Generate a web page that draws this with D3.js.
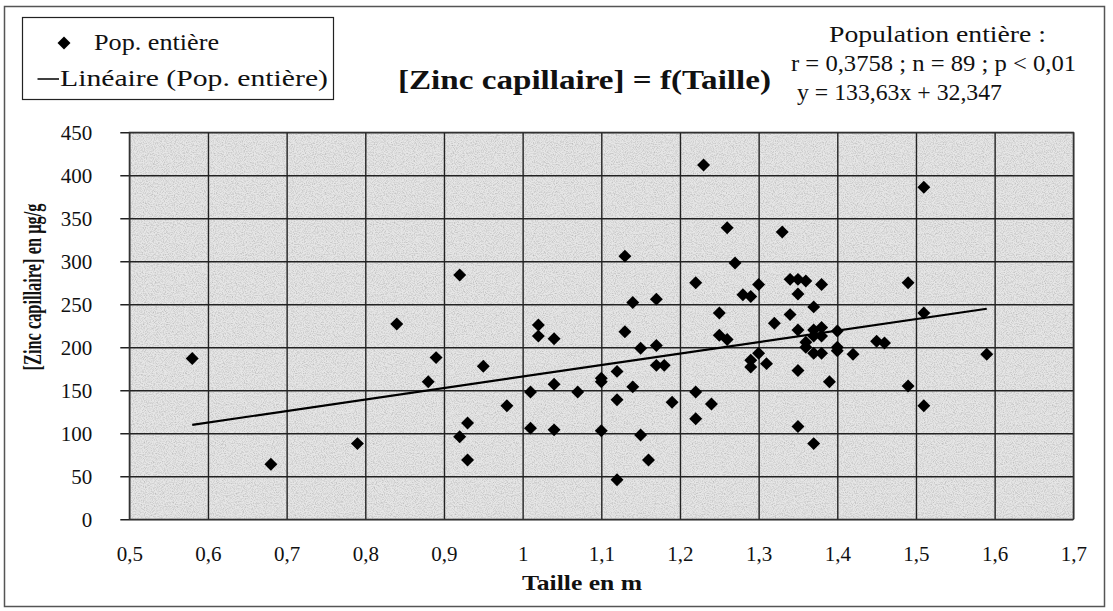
<!DOCTYPE html>
<html><head><meta charset="utf-8">
<script src="https://cdn.jsdelivr.net/npm/d3@7"></script>
<style>
body{margin:0;background:#fff}
svg text{font-family:"Liberation Serif","Times New Roman",Tinos,"Nimbus Roman","DejaVu Serif",serif !important;fill:#111}
</style>
</head><body>
<svg id="chart" width="1113" height="611"></svg>
<script>
// ---- data ----
const taille = [0.58,0.68,0.79,0.84,0.88,0.89,0.92,0.92,0.93,0.93,0.95,0.98,1.01,1.01,1.02,1.02,1.04,1.04,1.04,1.07,
  1.10,1.10,1.10,1.12,1.12,1.12,1.13,1.13,1.14,1.14,1.15,1.15,1.16,1.17,1.17,1.17,1.18,1.19,1.22,1.22,
  1.22,1.23,1.24,1.25,1.25,1.26,1.26,1.27,1.28,1.29,1.29,1.29,1.30,1.30,1.31,1.32,1.33,1.34,1.34,1.35,
  1.35,1.35,1.35,1.35,1.36,1.36,1.36,1.37,1.37,1.37,1.37,1.37,1.38,1.38,1.38,1.38,1.39,1.40,1.40,1.40,
  1.42,1.45,1.46,1.49,1.49,1.51,1.51,1.51,1.59];
const zinc = [187,64,88,227,160,188,284,96,112,69,178,132,148,106,226,213,210,157,104,148,
  164,160,103,172,139,46,306,218,252,154,199,98,69,256,202,179,179,136,275,148,
  117,412,134,240,214,209,339,298,261,259,185,177,273,193,181,228,334,279,238,279,
  262,220,173,108,277,206,200,247,220,213,193,88,273,223,213,193,160,219,200,196,
  192,207,205,275,155,386,240,132,192];
const trendSlope = 133.63, trendIntercept = 32.347;
const xTicks = [0.5,0.6,0.7,0.8,0.9,1.0,1.1,1.2,1.3,1.4,1.5,1.6,1.7];
const xTickLabels = ["0,5","0,6","0,7","0,8","0,9","1","1,1","1,2","1,3","1,4","1,5","1,6","1,7"];
const yTicks = [0,50,100,150,200,250,300,350,400,450];
const yTickLabels = ["0","50","100","150","200","250","300","350","400","450"];
const seriesLabel = "Pop. entière";
const trendLabel = "Linéaire (Pop. entière)";
const titleText = "[Zinc capillaire] = f(Taille)";
const statsLines = ["Population entière :", "r = 0,3758 ; n = 89 ; p < 0,01", "y = 133,63x + 32,347"];
const xTitle = "Taille en m";
const yTitle = "[Zinc capillaire] en µg/g";

// ---- layout ----
const svg = d3.select("#chart");
const L = 129.3, R = 1073.3, T = 132.3, B = 519.3;
const x = d3.scaleLinear().domain([0.5,1.7]).range([L,R]);
const y = d3.scaleLinear().domain([0,450]).range([B,T]);

const defs = svg.append("defs");
const f = defs.append("filter").attr("id","noise").attr("x",0).attr("y",0).attr("width","100%").attr("height","100%")
  .attr("color-interpolation-filters","sRGB");
f.append("feTurbulence").attr("type","fractalNoise").attr("baseFrequency",0.9).attr("numOctaves",2).attr("seed",7).attr("result","n");
f.append("feColorMatrix").attr("in","n").attr("type","matrix")
  .attr("values","0 0 0 0 0.3  0 0 0 0 0.3  0 0 0 0 0.3  1.6 0 0 0 -0.65");

// outer frame
svg.append("rect").attr("x",4.5).attr("y",6.5).attr("width",1100).attr("height",600)
  .attr("fill","#fff").attr("stroke","#555").attr("stroke-width",1.5);

// plot background
svg.append("rect").attr("x",L).attr("y",T).attr("width",R-L).attr("height",B-T).attr("fill","#e6e6e6");
svg.append("rect").attr("x",L).attr("y",T).attr("width",R-L).attr("height",B-T).attr("filter","url(#noise)").attr("opacity",0.35);

// x axis + vertical grid
const xAxis = svg.append("g").attr("transform",`translate(0,${B})`)
  .call(d3.axisBottom(x).tickValues(xTicks).tickSize(-(B-T)).tickPadding(27)
    .tickFormat((d,i)=>xTickLabels[i]));
xAxis.select(".domain").remove();
xAxis.selectAll("line").attr("stroke","#222").attr("stroke-width",1.4);
xAxis.selectAll("text").attr("font-size",21).attr("fill","#111");

// y axis + horizontal grid (ticks extend 9px left of the plot)
const yAxis = svg.append("g").attr("transform",`translate(${L-9},0)`)
  .call(d3.axisLeft(y).tickValues(yTicks).tickSize(-(R-L+9)).tickPadding(28)
    .tickFormat((d,i)=>yTickLabels[i]));
yAxis.select(".domain").remove();
yAxis.selectAll("line").attr("stroke","#222").attr("stroke-width",1.4);
yAxis.selectAll("text").attr("font-size",21).attr("fill","#111");

// plot border
svg.append("rect").attr("x",L).attr("y",T).attr("width",R-L).attr("height",B-T)
  .attr("fill","none").attr("stroke","#333").attr("stroke-width",1.2);

// trend line over data range
const xr = d3.extent(taille);
svg.append("line")
  .attr("x1",x(xr[0])).attr("y1",y(trendSlope*xr[0]+trendIntercept))
  .attr("x2",x(xr[1])).attr("y2",y(trendSlope*xr[1]+trendIntercept))
  .attr("stroke","#000").attr("stroke-width",2.2);

// points
const diamond = d3.symbol().type(d3.symbolSquare).size(84);
svg.append("g").selectAll("path").data(taille.map((t,i)=>[t,zinc[i]])).join("path")
  .attr("d",diamond)
  .attr("transform",d=>`translate(${x(d[0])},${y(d[1])}) rotate(45)`)
  .attr("fill","#000");

// axis titles
svg.append("text").attr("x",582).attr("y",590).attr("text-anchor","middle")
  .attr("font-size",22).attr("font-weight","bold").attr("textLength",120).attr("lengthAdjust","spacingAndGlyphs")
  .text(xTitle);
svg.append("text").attr("transform","translate(41,287) rotate(-90)").attr("text-anchor","middle")
  .attr("font-size",25).attr("font-weight","bold").attr("textLength",167).attr("lengthAdjust","spacingAndGlyphs")
  .text(yTitle);

// legend
const lg = svg.append("g");
lg.append("rect").attr("x",22.5).attr("y",17.5).attr("width",311).attr("height",82)
  .attr("fill","#fff").attr("stroke","#222").attr("stroke-width",1.2);
lg.append("path").attr("d",diamond).attr("transform","translate(64,43) rotate(45)").attr("fill","#000");
lg.append("text").attr("x",94).attr("y",50).attr("font-size",23)
  .attr("textLength",125).attr("lengthAdjust","spacingAndGlyphs").text(seriesLabel);
lg.append("line").attr("x1",37.5).attr("x2",59).attr("y1",79).attr("y2",79).attr("stroke","#000").attr("stroke-width",1.5);
lg.append("text").attr("x",60).attr("y",86).attr("font-size",23)
  .attr("textLength",268).attr("lengthAdjust","spacingAndGlyphs").text(trendLabel);

// title
svg.append("text").attr("x",398).attr("y",89).attr("font-size",27).attr("font-weight","bold")
  .attr("textLength",373).attr("lengthAdjust","spacingAndGlyphs").text(titleText);

// stats block
const statsX = [[829,217],[791,285],[797,205]];
const statsY = [42,71,100];
statsLines.forEach((s,i)=>{
  svg.append("text").attr("x",statsX[i][0]).attr("y",statsY[i]).attr("font-size",23)
    .attr("textLength",statsX[i][1]).attr("lengthAdjust","spacingAndGlyphs").text(s);
});
</script>
</body></html>
